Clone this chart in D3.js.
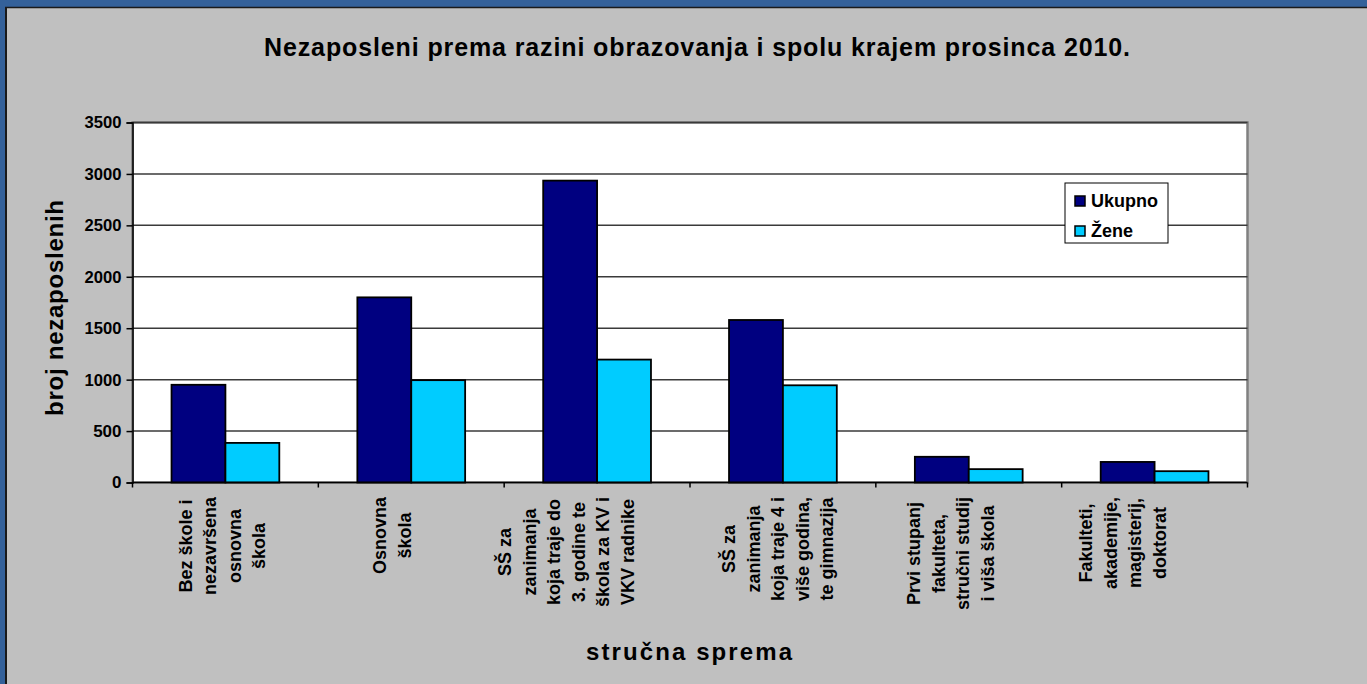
<!DOCTYPE html>
<html>
<head>
<meta charset="utf-8">
<script src="https://cdn.jsdelivr.net/npm/d3@7"></script>
<style>
	html, body { margin: 0; padding: 0; background: #c0c0c0; }
	svg { display: block; font-family: "Liberation Sans", Arial, sans-serif; font-weight: bold; }
</style>
</head>
<body>
<div id="chart"></div>
<script>
// chart data
const categories = [
	["Bez škole i", "nezavršena", "osnovna", "škola"],
	["Osnovna", "škola"],
	["SŠ za", "zanimanja", "koja traje do", "3. godine te", "škola za KV i", "VKV radnike"],
	["SŠ za", "zanimanja", "koja traje 4 i", "više godina,", "te gimnazija"],
	["Prvi stupanj", "fakulteta,", "stručni studij", "i viša škola"],
	["Fakulteti,", "akademije,", "magisterij,", "doktorat"]
];
const seriesNames = ["Ukupno", "Žene"];
const ukupno = [950, 1800, 2935, 1580, 250, 200];
const zene = [385, 995, 1195, 945, 130, 110];
const yTicks = [0, 500, 1000, 1500, 2000, 2500, 3000, 3500];

const title = "Nezaposleni prema razini obrazovanja i spolu krajem prosinca 2010.";
const yTitle = "broj nezaposlenih";
const xTitle = "stručna sprema";

const W = 1367, H = 684;
const colors = ["#000080", "#00ccff"];

const svg = d3.select("#chart").append("svg")
	.attr("width", W)
	.attr("height", H);

// grey page with the blue frame at top and left
svg.append("rect").attr("width", W).attr("height", H).attr("fill", "#c0c0c0");
svg.append("rect").attr("width", W).attr("height", 7).attr("fill", "#34619a");
svg.append("rect").attr("width", 5).attr("height", H).attr("fill", "#34619a");
svg.append("line").attr("x1", 5).attr("x2", W).attr("y1", 7.5).attr("y2", 7.5)
	.attr("stroke", "#1a1a1a").attr("stroke-width", 1.5);
svg.append("line").attr("x1", 6).attr("x2", 6).attr("y1", 7).attr("y2", H)
	.attr("stroke", "#1a1a1a").attr("stroke-width", 2);

const plot = { left: 132.5, right: 1247.5, top: 122.5, bottom: 482.5 };

// scales
const x0 = d3.scaleBand()
	.domain(d3.range(categories.length))
	.range([plot.left, plot.right])
	.paddingInner(0.42)
	.paddingOuter(0.21);
const x1 = d3.scaleBand()
	.domain(seriesNames)
	.range([0, x0.bandwidth()]);
const y = d3.scaleLinear()
	.domain([0, 3500])
	.range([plot.bottom, plot.top]);

// plot area
svg.append("rect")
	.attr("x", plot.left).attr("y", plot.top)
	.attr("width", plot.right - plot.left).attr("height", plot.bottom - plot.top)
	.attr("fill", "#fff")
	.attr("stroke", "#808080").attr("stroke-width", 2.5);

// gridlines
svg.append("g")
	.selectAll("line")
	.data(yTicks.slice(1))
	.join("line")
	.attr("x1", plot.left).attr("x2", plot.right)
	.attr("y1", d => y(d)).attr("y2", d => y(d))
	.attr("stroke", "#3a3a3a").attr("stroke-width", 1.5);

// bars
const rows = categories.map((c, i) => ({ i: i, values: [ukupno[i], zene[i]] }));
const groups = svg.append("g")
	.selectAll("g")
	.data(rows)
	.join("g")
	.attr("transform", d => `translate(${x0(d.i)},0)`);

groups.selectAll("rect")
	.data(d => d.values.map((v, k) => ({ name: seriesNames[k], v: v, k: k })))
	.join("rect")
	.attr("x", d => x1(d.name))
	.attr("y", d => y(d.v))
	.attr("width", x1.bandwidth())
	.attr("height", d => y(0) - y(d.v))
	.attr("fill", d => colors[d.k])
	.attr("stroke", "#000").attr("stroke-width", 1.8);

// y axis
const yAxis = svg.append("g")
	.attr("transform", `translate(${plot.left},0)`)
	.call(d3.axisLeft(y).tickValues(yTicks).tickSize(6).tickPadding(5).tickFormat(d3.format("d")));
yAxis.select(".domain").attr("stroke", "#000").attr("stroke-width", 1.5);
yAxis.selectAll(".tick line").attr("stroke", "#000").attr("stroke-width", 1.5);
yAxis.selectAll("text")
	.attr("font-size", 17)
	.attr("font-weight", "bold")
	.attr("font-family", "Liberation Sans, Arial, sans-serif")
	.attr("textLength", 37)
	.attr("lengthAdjust", "spacingAndGlyphs")
	.attr("fill", "#000");
yAxis.selectAll("text").filter(d => d < 1000).attr("textLength", null);

// x axis line and tick marks between categories
svg.append("line")
	.attr("x1", plot.left).attr("x2", plot.right)
	.attr("y1", plot.bottom).attr("y2", plot.bottom)
	.attr("stroke", "#000").attr("stroke-width", 1.5);
const step = x0.step();
svg.append("g")
	.selectAll("line")
	.data(d3.range(categories.length + 1))
	.join("line")
	.attr("x1", i => x0(0) - x0.paddingOuter() * step + i * step)
	.attr("x2", i => x0(0) - x0.paddingOuter() * step + i * step)
	.attr("y1", plot.bottom).attr("y2", plot.bottom + 5)
	.attr("stroke", "#000").attr("stroke-width", 1.5);

// rotated category labels
const labelShift = [-3, -19, -31, -5, -18, -32];
const lineGap = 24.5;
const labelTop = 497;
categories.forEach((lines, i) => {
	const cx = x0(i) + x0.bandwidth() / 2 + labelShift[i];
	const g = svg.append("g");
	const texts = g.selectAll("text")
		.data(lines)
		.join("text")
		.attr("font-size", 18)
		.attr("text-anchor", "middle")
		.attr("dy", "0.35em")
		.text(d => d);
	const maxW = d3.max(texts.nodes(), n => n.getComputedTextLength());
	const cy = labelTop + maxW / 2;
	texts.attr("transform", (d, k) => {
		const lx = cx + (k - (lines.length - 1) / 2) * lineGap;
		return `translate(${lx},${cy}) rotate(-90)`;
	});
});

// titles
svg.append("text")
	.attr("x", 697).attr("y", 56)
	.attr("text-anchor", "middle")
	.attr("font-size", 25)
	.attr("textLength", 866)
	.attr("lengthAdjust", "spacing")
	.text(title);

svg.append("text")
	.attr("transform", "translate(63,308) rotate(-90)")
	.attr("text-anchor", "middle")
	.attr("font-size", 24)
	.attr("textLength", 216)
	.attr("lengthAdjust", "spacing")
	.text(yTitle);

svg.append("text")
	.attr("x", 689).attr("y", 660)
	.attr("text-anchor", "middle")
	.attr("font-size", 24)
	.attr("textLength", 206)
	.attr("lengthAdjust", "spacing")
	.text(xTitle);

// legend
const legend = svg.append("g").attr("transform", "translate(1065,183)");
legend.append("rect")
	.attr("width", 103).attr("height", 60)
	.attr("fill", "#fff").attr("stroke", "#000").attr("stroke-width", 1);
const items = legend.selectAll("g.item")
	.data(seriesNames)
	.join("g")
	.attr("class", "item")
	.attr("transform", (d, i) => `translate(10,${18 + i * 30})`);
items.append("rect")
	.attr("x", 0).attr("y", -5)
	.attr("width", 10).attr("height", 10)
	.attr("fill", (d, i) => colors[i])
	.attr("stroke", "#000").attr("stroke-width", 1.5);
items.append("text")
	.attr("x", 16).attr("dy", "0.35em")
	.attr("font-size", 18)
	.text(d => d);
</script>
</body>
</html>
